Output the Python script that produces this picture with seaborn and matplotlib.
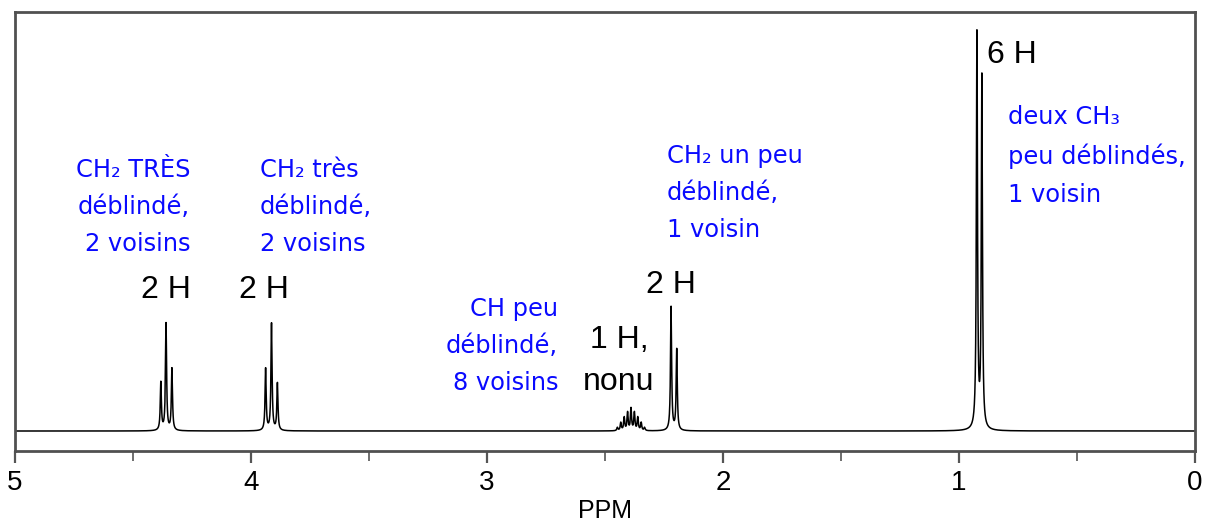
import numpy as np
import pandas as pd
import seaborn as sns
import matplotlib.pyplot as plt
from matplotlib.ticker import MultipleLocator

# line positions (ppm) and heights (arbitrary units, tallest line = 100)
shift_ppm = [4.382, 4.360, 4.335,
             3.938, 3.913, 3.888,
             2.4475, 2.4331, 2.4186, 2.4042, 2.3898, 2.3754, 2.3610, 2.3466, 2.3322,
             2.220, 2.196,
             0.924, 0.903]
height = [12.0, 26.8, 15.5,
          15.5, 26.8, 11.8,
          0.8, 2.0, 3.3, 4.5, 5.5, 4.5, 3.3, 2.0, 0.8,
          31.0, 20.3,
          99.0, 88.0]
half_width = 0.0028  # ppm

# annotations: (text, ppm, intensity, alignment)
count_labels = [("2 H", 4.360, 35.3), ("2 H", 3.945, 35.3), ("2 H", 2.220, 36.6),
                ("6 H", 0.775, 94.2), ("1 H,\nnonu", 2.441, 17.5)]
blue_labels = [("CH₂ TRÈS\ndéblindé,\n2 voisins", 4.258, 56.1, "right"),
               ("CH₂ très\ndéblindé,\n2 voisins", 3.962, 56.1, "left"),
               ("CH peu\ndéblindé,\n8 voisins", 2.699, 21.3, "right"),
               ("CH₂ un peu\ndéblindé,\n1 voisin", 2.237, 59.6, "left"),
               ("deux CH₃\npeu déblindés,\n1 voisin", 0.792, 68.9, "left")]

ppm = np.linspace(0, 5, 25001)
intensity = np.zeros_like(ppm)
for c, h in zip(shift_ppm, height):
    intensity += h * half_width**2 / ((ppm - c)**2 + half_width**2)
spectrum = pd.DataFrame({"ppm": ppm, "intensity": intensity})

sns.set_style("white")
plt.rcParams['font.family'] = ['Liberation Sans', 'DejaVu Sans']
plt.rcParams['text.color'] = 'black'
plt.rcParams['axes.labelcolor'] = 'black'
plt.rcParams['xtick.labelcolor'] = 'black'

fig = plt.figure(figsize=(12.05, 5.22), dpi=100)
ax = fig.add_axes([15/1205, 1 - 451/522, 1180/1205, 439/522])

sns.lineplot(data=spectrum, x="ppm", y="intensity", ax=ax, color="black",
             lw=1.1, estimator=None, sort=False)

ax.set_xlim(5, 0)
ax.set_ylim(-5.01, 105.0)
ax.set_yticks([])
ax.set_ylabel("")
ax.set_xlabel("PPM", fontsize=18, labelpad=2, color="black")
ax.xaxis.set_major_locator(MultipleLocator(1))
ax.xaxis.set_minor_locator(MultipleLocator(0.5))
ax.tick_params(axis="x", which="major", direction="out", length=8.6, width=1.6,
               color="#555555", labelsize=20, pad=5, bottom=True, labelcolor="black")
ax.tick_params(axis="x", which="minor", direction="out", length=7, width=1.2,
               color="#555555", bottom=True)
for side in ["top", "bottom", "left", "right"]:
    ax.spines[side].set_visible(True)
    ax.spines[side].set_color("#505050")
    ax.spines[side].set_linewidth(2)

for txt, x, y in count_labels:
    ax.text(x, y, txt, fontsize=23, ha="center", va="center",
            multialignment="center", linespacing=1.55, color="black")

for txt, x, y, align in blue_labels:
    ax.text(x, y, txt, fontsize=17.4, ha=align, va="center", multialignment=align,
            linespacing=1.7, color="#0a0aff", family=['DejaVu Sans'])

fig.savefig("out.png", dpi=100)
